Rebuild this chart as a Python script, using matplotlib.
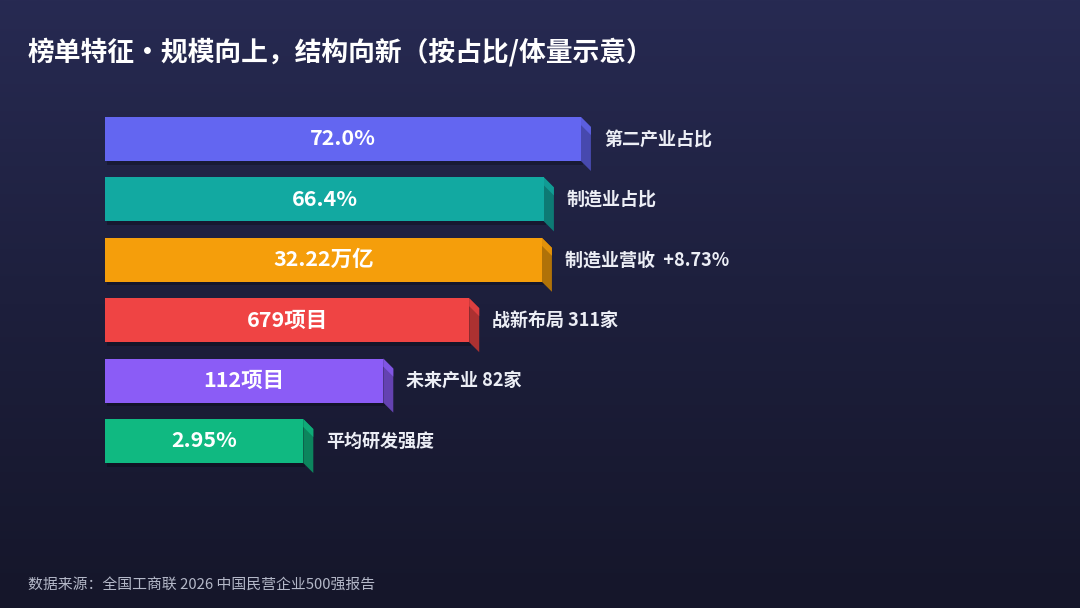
import numpy as np
import matplotlib
matplotlib.use("Agg")
import matplotlib.pyplot as plt
from matplotlib.patches import Polygon, Rectangle
from matplotlib.colors import to_rgb, LinearSegmentedColormap

plt.rcParams["font.family"] = ["Noto Sans CJK SC", "DejaVu Sans"]

# data (bar length is schematic, per the title)
bar_len = [72.0, 66.4, 66.1, 55.1, 42.1, 30.0]
value_text = ["72.0%", "66.4%", "32.22万亿", "679项目", "112项目", "2.95%"]
side_text = ["第二产业占比", "制造业占比", "制造业营收  +8.73%", "战新布局 311家", "未来产业 82家", "平均研发强度"]
colors = ["#6366F1", "#12A9A1", "#F59E0B", "#EF4444", "#8B5CF6", "#10B981"]

title = "榜单特征・规模向上，结构向新（按占比/体量示意）"
source = "数据来源：全国工商联 2026 中国民营企业500强报告"

W, H = 1080, 608
fig = plt.figure(figsize=(W / 100, H / 100), dpi=100)

# background gradient
bg = fig.add_axes([0, 0, 1, 1])
bg.set_axis_off()
cmap = LinearSegmentedColormap.from_list("bg", ["#272a52", "#1d1f3c", "#15162a"])
grad = np.linspace(0, 1, 256).reshape(-1, 1)
bg.imshow(grad, aspect="auto", cmap=cmap, extent=[0, 1, 0, 1], origin="upper")
bg.set_xlim(0, 1)
bg.set_ylim(0, 1)

# bar axes: x in value units, y in row units
px_per_unit = 6.61
x0_px = 105
row0_px, row_gap_px = 139, 60.4
ax = fig.add_axes([0, 0, 1, 1])
ax.set_axis_off()
ax.patch.set_alpha(0)
ax.set_xlim(-x0_px / px_per_unit, (W - x0_px) / px_per_unit)
ax.set_ylim((H - row0_px) / row_gap_px, -row0_px / row_gap_px)

bar_h = 44 / row_gap_px
dx = 10 / px_per_unit
dy = 10 / row_gap_px


def shade(c, f):
    r, g, b = to_rgb(c)
    if f < 1:
        return (r * f, g * f, b * f)
    return (r + (1 - r) * (f - 1), g + (1 - g) * (f - 1), b + (1 - b) * (f - 1))


for i, (v, c) in enumerate(zip(bar_len, colors)):
    top = i - bar_h / 2
    bot = i + bar_h / 2
    # soft shadow
    ax.add_patch(Rectangle((0.3, top + 0.06), v, bar_h, color="black", alpha=0.25, lw=0, zorder=1))
    # front face
    ax.add_patch(Rectangle((0, top), v, bar_h, color=c, lw=0, zorder=3))
    # side face
    ax.add_patch(Polygon([(v, top), (v + dx, top + dy), (v + dx, bot + dy), (v, bot)],
                         closed=True, color=shade(c, 0.72), lw=0, zorder=2))
    # bevel highlight at the top corner
    ax.add_patch(Polygon([(v, top), (v + dx, top + dy), (v + dx, top + 1.8 * dy), (v, top + 0.8 * dy)],
                         closed=True, color=shade(c, 0.92), lw=0, zorder=2))
    ax.text(v / 2, i, value_text[i], color="white", fontsize=15.5, fontweight="bold",
            ha="center", va="center", zorder=4)
    ax.text(v + 23 / px_per_unit, i, side_text[i], color="#eceef5", fontsize=13,
            fontweight="bold", ha="left", va="center", zorder=4)

fig.text(28 / W, 1 - 52 / H, title, color="white", fontsize=19.3, fontweight="bold",
         ha="left", va="center")
fig.text(28 / W, 1 - 585 / H, source, color="#b4b8c8", fontsize=10.7, ha="left", va="center")

fig.savefig("out.png", dpi=100)
